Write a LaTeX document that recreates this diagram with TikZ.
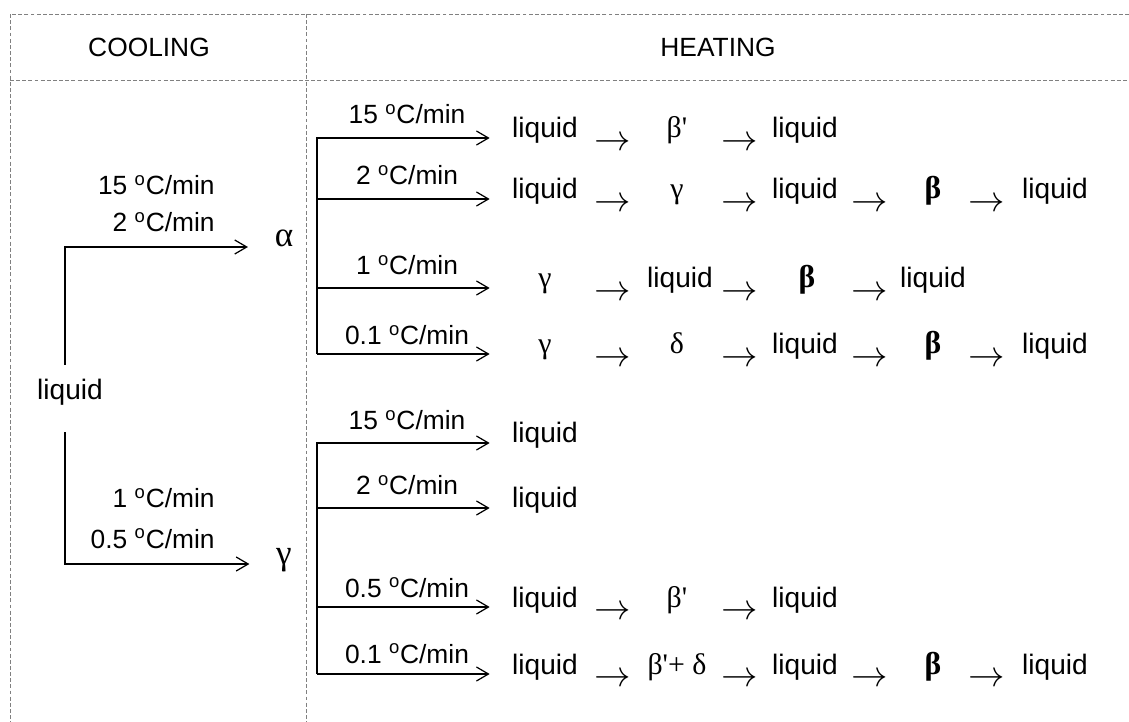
\documentclass[tikz,border=0pt]{standalone}
\usepackage{graphicx}
\usepackage{fontspec}
\setmainfont{Liberation Sans}
\newfontfamily\grk{Liberation Serif}
\usetikzlibrary{arrows.meta}

\newcommand{\goes}{\raisebox{-0.26cm}{\scalebox{1.2}{$\rightarrow$}}}
\newcommand{\gk}[1]{{\grk\fontsize{17}{20}\selectfont #1}}
\newcommand{\gkb}[1]{{\grk\bfseries\fontsize{18}{21}\selectfont #1}}
\newcommand{\rate}[1]{#1 \textsuperscript{o}C/min}

\tikzset{
  cellrule/.style={draw=gray, line width=0.5pt, dash pattern=on 2.2pt off 1.3pt},
  flow/.style={-{Straight Barb[length=2.4mm,width=2.8mm]}, line width=0.7pt},
  state/.style={inner sep=0pt, text height=0.4cm, text depth=0.4cm, font=\fontsize{16}{19}\selectfont},
  statefirst/.style={state, minimum width=1.36cm},
  phasebig/.style={state, font=\grk\fontsize{20}{24}\selectfont},
  ratetext/.style={inner sep=0pt, anchor=base, font=\fontsize{15}{18}\selectfont},
  headtext/.style={inner sep=0pt, anchor=base, font=\fontsize{15}{18}\selectfont}
}

\begin{document}
\begin{tikzpicture}[x=0.02cm, y=-0.02cm]
\useasboundingbox (0,0) rectangle (1129,722);

% table rules
\draw[cellrule] (1129,14) -- (10,14) -- (10,722);
\draw[cellrule] (10,80) -- (1129,80);
\draw[cellrule] (306,14) -- (306,722);

\node[headtext] (cool) at (149,57) {COOLING};
\node[headtext] (heat) at (718,57) {HEATING};

% cooling side
\node[state] (liq) at (70,400) {liquid};
\node[phasebig] (alpha) at (284,247) {α};
\node[phasebig] (gamma) at (284,564) {γ};

\draw[flow, shorten >=0.53cm] ([xshift=-0.1cm,yshift=0.3cm]liq.north) |- (alpha);
\draw[flow, shorten >=0.53cm] ([xshift=-0.1cm,yshift=-0.24cm]liq.south) |- (gamma);

\node[ratetext, anchor=base east] (c15) at (215,195) {\rate{15}};
\node[ratetext, anchor=base east] (c2) at (215,232) {\rate{2}};
\node[ratetext, anchor=base east] (c1) at (215,508) {\rate{1}};
\node[ratetext, anchor=base east] (c05) at (215,548) {\rate{0.5}};

% heating of alpha
\coordinate (ta2) at (317,199);
\coordinate (ta3) at (317,288);
\coordinate (ta4) at (317,354);

\node[statefirst] (a1) at (545,138) {liquid};
\foreach \x/\t [count=\i] in {613/\goes, 677/\gk{β'}, 740/\goes, 805/liquid}
  \node[state] (a1-\i) at (\x,138) {\t};

\node[statefirst] (a2) at (545,199) {liquid};
\foreach \x/\t [count=\i] in {613/\goes, 677/\gk{γ}, 740/\goes, 805/liquid, 870/\goes, 933/\gkb{β}, 987/\goes, 1055/liquid}
  \node[state] (a2-\i) at (\x,199) {\t};

\node[statefirst] (a3) at (545,288) {\gk{γ}};
\foreach \x/\t [count=\i] in {613/\goes, 680/liquid, 740/\goes, 807/\gkb{β}, 870/\goes, 933/liquid}
  \node[state] (a3-\i) at (\x,288) {\t};

\node[statefirst] (a4) at (545,354) {\gk{γ}};
\foreach \x/\t [count=\i] in {613/\goes, 677/\gk{δ}, 740/\goes, 805/liquid, 870/\goes, 933/\gkb{β}, 987/\goes, 1055/liquid}
  \node[state] (a4-\i) at (\x,354) {\t};

\draw[flow, shorten >=0.42cm] (ta4) |- (a1);
\draw[flow, shorten >=0.42cm] (ta2) -- (a2);
\draw[flow, shorten >=0.42cm] (ta3) -- (a3);
\draw[flow, shorten >=0.42cm] (ta4) -- (a4);

\node[ratetext] (ra1) at (407,124) {\rate{15}};
\node[ratetext] (ra2) at (407,185) {\rate{2}};
\node[ratetext] (ra3) at (407,275) {\rate{1}};
\node[ratetext] (ra4) at (407,345) {\rate{0.1}};

% heating of gamma
\coordinate (tg2) at (317,508);
\coordinate (tg3) at (317,607);
\coordinate (tg4) at (317,674);

\node[statefirst] (g1) at (545,443) {liquid};
\node[statefirst] (g2) at (545,508) {liquid};

\node[statefirst] (g3) at (545,607) {liquid};
\foreach \x/\t [count=\i] in {613/\goes, 677/\gk{β'}, 740/\goes, 805/liquid}
  \node[state] (g3-\i) at (\x,607) {\t};

\node[statefirst] (g4) at (545,674) {liquid};
\foreach \x/\t [count=\i] in {613/\goes, 677/\gk{β'+ δ}, 740/\goes, 805/liquid, 870/\goes, 933/\gkb{β}, 987/\goes, 1055/liquid}
  \node[state] (g4-\i) at (\x,674) {\t};

\draw[flow, shorten >=0.42cm] (tg4) |- (g1);
\draw[flow, shorten >=0.42cm] (tg2) -- (g2);
\draw[flow, shorten >=0.42cm] (tg3) -- (g3);
\draw[flow, shorten >=0.42cm] (tg4) -- (g4);

\node[ratetext] (rg1) at (407,430) {\rate{15}};
\node[ratetext] (rg2) at (407,495) {\rate{2}};
\node[ratetext] (rg3) at (407,597) {\rate{0.5}};
\node[ratetext] (rg4) at (407,663) {\rate{0.1}};
\end{tikzpicture}
\end{document}
